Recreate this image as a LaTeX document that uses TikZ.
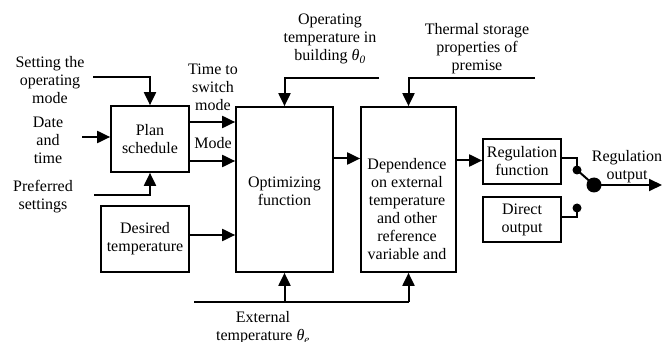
\documentclass[tikz,border=0pt]{standalone}
\usepackage{fontspec}
\setmainfont{Liberation Serif}
\usetikzlibrary{arrows.meta}
\begin{document}
\begin{tikzpicture}[x=1pt,y=-1pt,
  font=\fontsize{16}{18}\selectfont,
  box/.style={draw,line width=1.7pt,inner sep=0pt,align=center},
  lbl/.style={align=center,inner sep=0pt},
  conn/.style={line width=2pt},
  arr/.style={line width=2pt,-{Triangle[length=13pt,width=12pt]}},
  dot/.style={circle,fill,inner sep=0pt,minimum size=#1}]
\useasboundingbox (0,0) rectangle (662,342);
% boxes
\node[box,minimum width=78pt,minimum height=66pt] (plan) at (150,139) {Plan\\schedule};
\node[box,minimum width=97pt,minimum height=165pt] (opt) at (284.5,189.5) {};
\node[lbl] (opttext) at (284.5,191) {Optimizing\\function};
\node[box,minimum width=95pt,minimum height=165pt] (dep) at (408.5,189.5) {};
\node[lbl] (deptext) at (407,209) {Dependence\\on external\\temperature\\and other\\reference\\variable and};
\node[box,minimum width=88pt,minimum height=66pt] (des) at (145,239) {Desired\\temperature};
\node[box,minimum width=78pt,minimum height=45pt] (reg) at (522,161.5) {Regulation\\function};
\node[box,minimum width=78pt,minimum height=45pt] (dir) at (522,219.5) {Direct\\output};
% labels
\node[lbl] (lset) at (50,80) {Setting the\\operating\\mode};
\node[lbl] (ldate) at (48,140) {Date\\and\\time};
\node[lbl] (lpref) at (43,196.5) {Preferred\\settings};
\node[lbl] (ltime) at (213,87) {Time to\\switch\\mode};
\node[lbl] (lmode) at (213,143) {Mode};
\node[lbl] (lop) at (330,39) {Operating\\temperature in\\building {\itshape θ}\textsubscript{\itshape 0}};
\node[lbl] (lth) at (477,49) {Thermal storage\\properties of\\premise};
\node[lbl] (lext) at (263,328) {External\\temperature {\itshape θ}\textsubscript{\itshape e}};
\node[lbl] (lout) at (627,166.5) {Regulation\\output};
% free ends
\coordinate (s1) at (93,77);
\coordinate (d1) at (82,137);
\coordinate (p1) at (94,195);
\coordinate (o1) at (379,78);
\coordinate (t1) at (535,78);
\coordinate (e1) at (194,302);
\coordinate (out) at (662,185);
% switch dots
\node[dot=9pt] (sw1) at (577,170) {};
\node[dot=9pt] (sw2) at (577,208) {};
\node[dot=15pt] (big) at (594,185) {};
% connectors
\draw[arr] (s1) -| (plan.north);
\draw[arr] (d1) -- (d1 -| plan.west);
\draw[arr] (p1) -| (plan.south);
\draw[arr] ([yshift=17pt]plan.east) -- ([yshift=17pt]plan.east -| opt.west);
\draw[arr] ([yshift=-22pt]plan.east) -- ([yshift=-22pt]plan.east -| opt.west);
\draw[arr] ([yshift=4pt]des.east) -- ([yshift=4pt]des.east -| opt.west);
\draw[arr] (o1) -| (opt.north);
\draw[arr] (t1) -| (dep.north);
\draw[conn] (e1) -- (e1 -| dep.south);
\draw[arr] (e1 -| opt.south) -- (opt.south);
\draw[arr] (e1 -| dep.south) -- (dep.south);
\draw[arr] ([yshift=3pt]opt.east |- reg.west) -- ([yshift=3pt]dep.west |- reg.west);
\draw[arr] ([yshift=1pt]dep.east |- reg.west) -- ([yshift=1pt]reg.west);
\draw[conn] ([yshift=3pt]reg.east) -| (sw1.center);
\draw[conn] (sw1.center) -- (big.center);
\draw[conn] ([yshift=2pt]dir.east) -| (sw2.center);
\draw[arr] (big.center) -- (out);
\end{tikzpicture}
\end{document}
